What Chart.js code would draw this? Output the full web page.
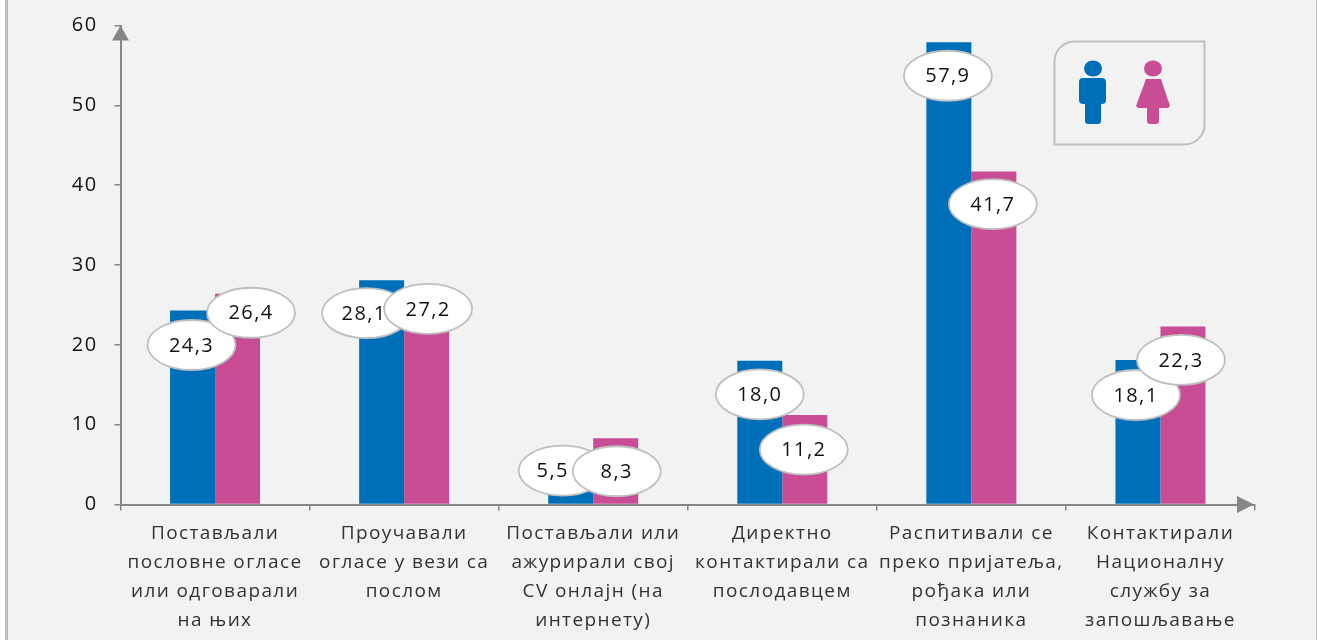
<!DOCTYPE html>
<html><head><meta charset="utf-8">
<script src="https://cdn.jsdelivr.net/npm/chart.js@4"></script>
<style>
html,body{margin:0;padding:0;background:#fff;overflow:hidden}
#frame{position:absolute;left:5px;top:0;width:1308px;height:640px;background:#f2f2f2;border-left:3px solid #bfbfbf;border-right:2px solid #bfbfbf}
#c{position:absolute;left:0;top:0}
</style></head><body>
<div id="frame"></div>
<canvas id="c" width="1317" height="640"></canvas>
<script>
const categories = [
  ["Постављали","пословне огласе","или одговарали","на њих"],
  ["Проучавали","огласе у вези са","послом"],
  ["Постављали или","ажурирали свој","CV онлајн (на","интернету)"],
  ["Директно","контактирали са","послодавцем"],
  ["Распитивали се","преко пријатеља,","рођака или","познаника"],
  ["Контактирали","Националну","службу за","запошљавање"]
];
const men   = [24.3, 28.1, 5.5, 18.0, 57.9, 18.1];
const women = [26.4, 27.2, 8.3, 11.2, 41.7, 22.3];
const yTicks = [0,10,20,30,40,50,60];

const menOffsetX   = [-1,-15.5,-8,0,-1,-2];
const menOffsetY   = [34.5,33,10,33.5,33.5,35];
const menTextShift = [0,-2,-10,0,0,0];
const womenOffsetX = [13.5,1.5,1,-1,-1,-2];
const womenOffsetY = [19,21.5,33,34.5,32.5,33.5];

const BLUE='#006fba', PINK='#c84d95', AXIS='#868686', FRAME='#bfbfbf', FONT='"Open Sans"';

const spacing = {
  id:'spacing',
  beforeDraw(chart){ chart.ctx.letterSpacing='1.4px'; }
};

const callouts = {
  id:'callouts',
  afterDatasetsDraw(chart){
    const {ctx,scales:{y}} = chart;
    const xs0 = chart.getDatasetMeta(0).data, xs1 = chart.getDatasetMeta(1).data;
    const one = (val,bar,dx,dy,shift)=>{
      const cx = bar.x+dx, cy = y.getPixelForValue(val)+dy;
      ctx.save();
      ctx.beginPath(); ctx.ellipse(cx,cy,44,25,0,0,Math.PI*2);
      ctx.fillStyle='#fff'; ctx.fill();
      ctx.lineWidth=1.8; ctx.strokeStyle=FRAME; ctx.stroke();
      ctx.fillStyle='#111'; ctx.font='20px '+FONT; ctx.textAlign='center'; ctx.textBaseline='middle';
      ctx.fillText(val.toFixed(1).replace('.',','),cx+shift,cy+1);
      ctx.restore();
    };
    men.forEach((v,i)=>{
      one(v,xs0[i],menOffsetX[i],menOffsetY[i],menTextShift[i]);
      one(women[i],xs1[i],womenOffsetX[i],womenOffsetY[i],0);
    });
  }
};

const decor = {
  id:'decor',
  afterDraw(chart){
    const {ctx,chartArea:a} = chart;
    ctx.save();
    ctx.fillStyle=AXIS;
    ctx.beginPath(); ctx.moveTo(a.left,a.top); ctx.lineTo(a.left+8.5,a.top+15); ctx.lineTo(a.left-8.5,a.top+15); ctx.closePath(); ctx.fill();
    ctx.beginPath(); ctx.moveTo(a.right-1,a.bottom); ctx.lineTo(a.right-18,a.bottom-8.5); ctx.lineTo(a.right-18,a.bottom+8.5); ctx.closePath(); ctx.fill();

    ctx.beginPath(); ctx.roundRect(1054.5,41.5,150,103,[20,0,20,0]);
    ctx.lineWidth=2; ctx.strokeStyle=FRAME; ctx.stroke();

    ctx.fillStyle=BLUE;
    ctx.beginPath(); ctx.ellipse(1093,68.5,9,8,0,0,Math.PI*2); ctx.fill();
    ctx.beginPath(); ctx.roundRect(1079,78,27,26,4); ctx.fill();
    ctx.beginPath(); ctx.roundRect(1085,100,16,24,3); ctx.fill();

    ctx.fillStyle=PINK;
    ctx.beginPath(); ctx.ellipse(1153,68.5,9,8,0,0,Math.PI*2); ctx.fill();
    ctx.beginPath(); ctx.moveTo(1146,79); ctx.lineTo(1161,79); ctx.lineTo(1170,106); ctx.lineTo(1168,108); ctx.lineTo(1138,108); ctx.lineTo(1136,106); ctx.closePath(); ctx.fill();
    ctx.beginPath(); ctx.roundRect(1147,104,12,20,3); ctx.fill();
    ctx.restore();
  }
};

new Chart(document.getElementById('c'),{
  type:'bar',
  data:{labels:categories,datasets:[
    {label:'Мушкарци',data:men,backgroundColor:BLUE,barPercentage:1,categoryPercentage:0.476},
    {label:'Жене',data:women,backgroundColor:PINK,barPercentage:1,categoryPercentage:0.476}
  ]},
  options:{
    responsive:false,animation:false,
    layout:{padding:{left:0,right:62,top:25.5,bottom:0},autoPadding:false},
    plugins:{legend:{display:false},tooltip:{enabled:false}},
    scales:{
      x:{
        afterFit(s){s.height=135.5;s.paddingLeft=0;s.paddingRight=0;s.paddingTop=0;s.paddingBottom=0;},
        grid:{drawOnChartArea:false,tickLength:6,color:AXIS,lineWidth:1.5},
        border:{color:AXIS,width:2},
        ticks:{maxRotation:0,autoSkip:false,color:'#333',padding:9,font:{family:FONT,size:19,lineHeight:'29px'}}
      },
      y:{
        min:0,max:60,
        afterFit(s){s.width=120.5;s.paddingLeft=0;s.paddingRight=0;s.paddingTop=0;s.paddingBottom=0;},
        afterBuildTicks(s){s.ticks=yTicks.map(v=>({value:v}));},
        grid:{drawOnChartArea:false,tickLength:6,color:AXIS,lineWidth:1.5},
        border:{color:AXIS,width:2},
        ticks:{color:'#111',padding:17,font:{family:FONT,size:20}}
      }
    }
  },
  plugins:[spacing,callouts,decor]
});
</script>
</body></html>
